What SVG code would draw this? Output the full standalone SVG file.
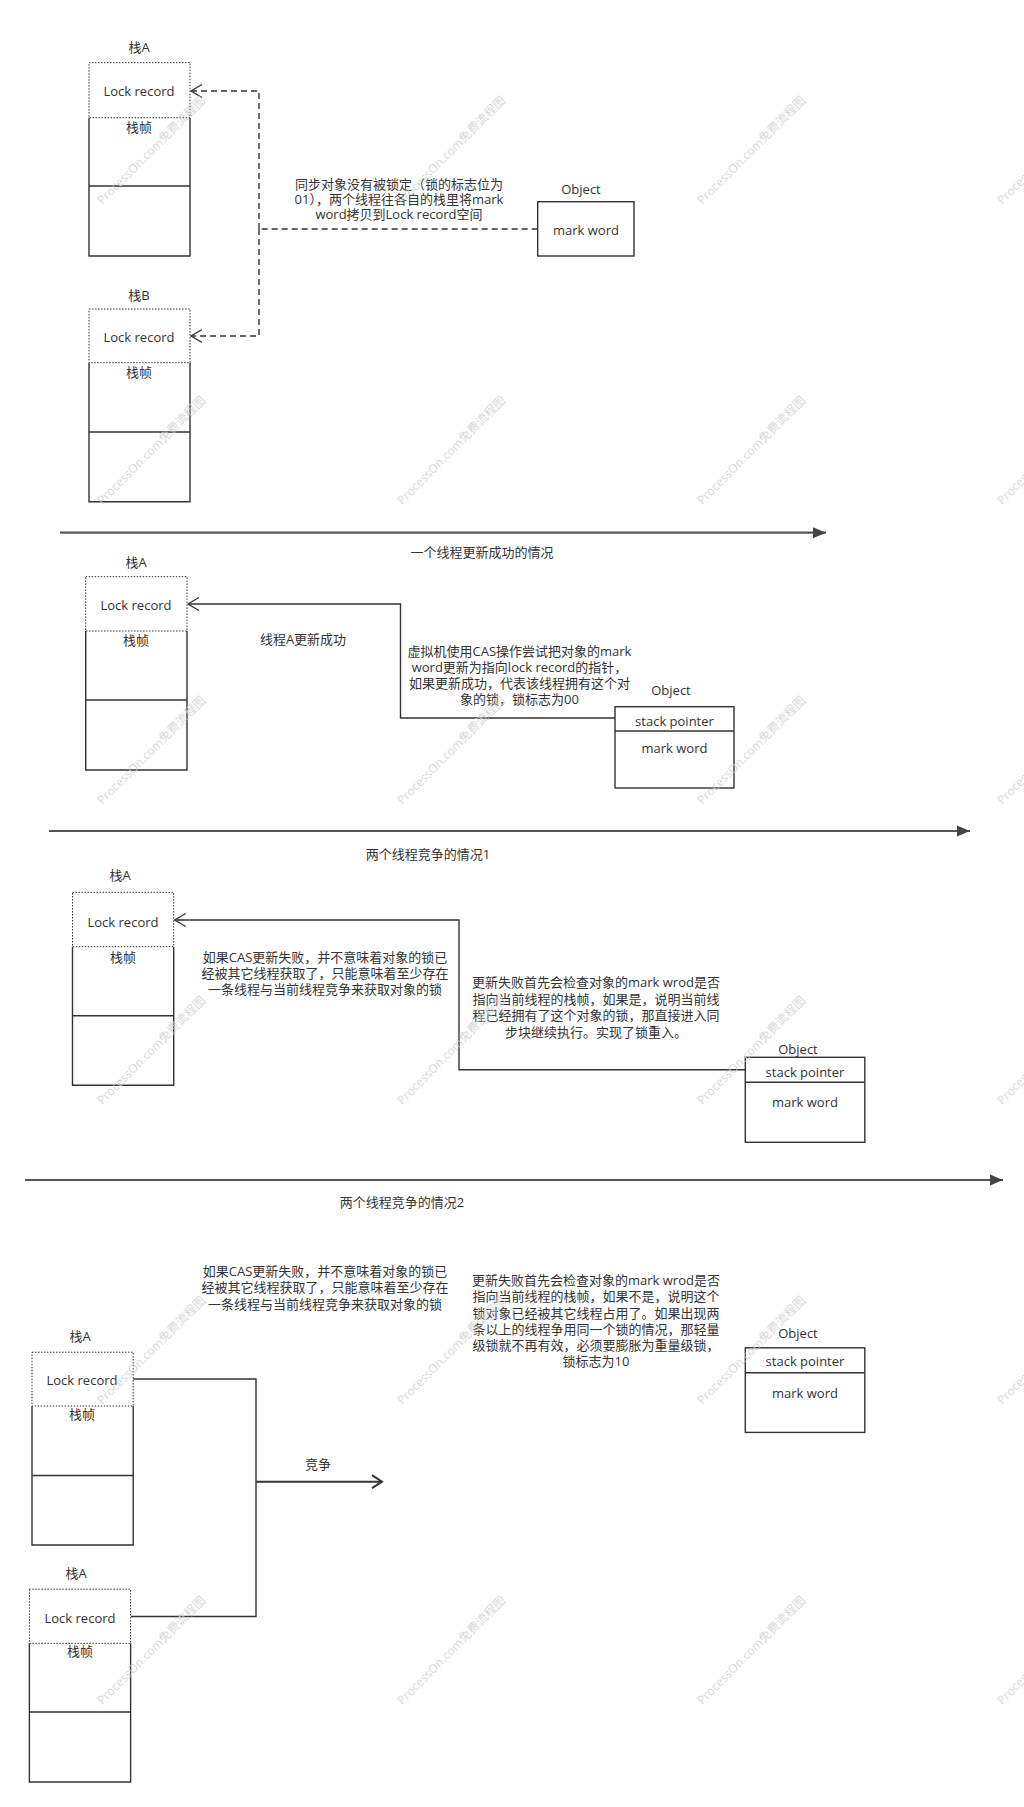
<svg xmlns="http://www.w3.org/2000/svg" width="1024" height="1807" viewBox="0 0 1024 1807">
<style>
.box{fill:#fff;stroke:#333;stroke-width:1.4}
.lock{fill:#fff;stroke:#333;stroke-width:1;stroke-dasharray:1.5 1.5}
.t{font-family:"Open Sans","Noto Sans CJK SC",sans-serif;font-size:13px;fill:#333;text-anchor:middle;dominant-baseline:central}
.wm{font-family:"Open Sans","Noto Sans CJK SC",sans-serif;font-size:12px;fill:#cfcfcf;text-anchor:middle;dominant-baseline:central;opacity:0.8}
.sep{stroke:#555;stroke-width:2.2;fill:none}
.con{stroke:#333;stroke-width:1.4;fill:none}
.dash{stroke:#333;stroke-width:1.4;fill:none;stroke-dasharray:6 4}
</style>
<defs>
<marker id="open" markerUnits="userSpaceOnUse" markerWidth="14" markerHeight="16" refX="12" refY="8" orient="auto"><path d="M1,1.5 L12,8 L1,14.5" fill="none" stroke="#333" stroke-width="1.3"/></marker>
<marker id="open2" markerUnits="userSpaceOnUse" markerWidth="14" markerHeight="16" refX="12" refY="8" orient="auto"><path d="M2,1.5 L12,8 L2,14.5" fill="none" stroke="#333" stroke-width="2"/></marker>
<marker id="tri" markerUnits="userSpaceOnUse" markerWidth="14" markerHeight="12" refX="13" refY="6" orient="auto"><path d="M0,0.5 L13,6 L0,11.5 z" fill="#444"/></marker>
</defs>
<rect width="1024" height="1807" fill="#fff"/>

<g id="connectors">
<path class="dash" d="M537.7,229 H259"/>
<path class="dash" d="M259,229 V91 H191" marker-end="url(#open)"/>
<path class="dash" d="M259,229 V336 H191" marker-end="url(#open)"/>
<path class="sep" d="M60,532.7 H826" marker-end="url(#tri)"/>
<path class="con" d="M615,718 H400.5 V604 H188" marker-end="url(#open)"/>
<path class="sep" d="M49,831 H970" marker-end="url(#tri)"/>
<path class="con" d="M745.3,1069.7 H459 V920 H174.7" marker-end="url(#open)"/>
<path class="sep" d="M25,1180 H1003" marker-end="url(#tri)"/>
<path class="con" d="M133.2,1379 H256 V1616.5 H130.6"/>
<path class="con" style="stroke-width:2" d="M256,1481.7 H382" marker-end="url(#open2)"/>
</g>

<g id="stackA1">
<text class="t" x="139" y="47">栈A</text>
<path class="box" d="M89,117.7 V256 H190 V117.7"/>
<line class="con" x1="89" y1="186" x2="190" y2="186"/>
<rect class="lock" x="89" y="62.7" width="101" height="55"/>
<text class="t" x="139" y="91">Lock record</text>
<text class="t" x="139" y="127">栈帧</text>
</g>
<g id="stackB1">
<text class="t" x="139" y="295">栈B</text>
<path class="box" d="M89,362.7 V501.7 H190 V362.7"/>
<line class="con" x1="89" y1="432" x2="190" y2="432"/>
<rect class="lock" x="89" y="309" width="101" height="53.7"/>
<text class="t" x="139" y="337">Lock record</text>
<text class="t" x="139" y="372">栈帧</text>
</g>
<g id="note1">
<text class="t" x="399" y="184">同步对象没有被锁定（锁的标志位为</text>
<text class="t" x="399" y="199">01），两个线程往各自的栈里将mark</text>
<text class="t" x="399" y="214">word拷贝到Lock record空间</text>
</g>
<g id="object1">
<text class="t" x="581" y="189">Object</text>
<rect class="box" x="537.7" y="201.7" width="96.3" height="54.3"/>
<text class="t" x="586" y="230">mark word</text>
</g>
<g id="label1"><text class="t" x="482" y="552">一个线程更新成功的情况</text></g>

<g id="stackA2">
<text class="t" x="136" y="562">栈A</text>
<path class="box" d="M85.7,631 V770 H187 V631"/>
<line class="con" x1="85.7" y1="700" x2="187" y2="700"/>
<rect class="lock" x="85.7" y="576.7" width="101.3" height="54.3"/>
<text class="t" x="136" y="605">Lock record</text>
<text class="t" x="136" y="640">栈帧</text>
</g>
<g id="note2a"><text class="t" x="303" y="639">线程A更新成功</text></g>
<g id="note2b">
<text class="t" x="519.5" y="651">虚拟机使用CAS操作尝试把对象的mark</text>
<text class="t" x="519.5" y="667">word更新为指向lock record的指针，</text>
<text class="t" x="519.5" y="683">如果更新成功，代表该线程拥有这个对</text>
<text class="t" x="519.5" y="699">象的锁，锁标志为00</text>
</g>
<g id="object2">
<text class="t" x="671" y="690">Object</text>
<rect class="box" x="615" y="706.7" width="119" height="81.3"/>
<line class="con" x1="615" y1="731" x2="734" y2="731"/>
<text class="t" x="674.5" y="720.7">stack pointer</text>
<text class="t" x="674.5" y="748">mark word</text>
</g>
<g id="label2"><text class="t" x="428" y="854">两个线程竞争的情况1</text></g>

<g id="stackA3">
<text class="t" x="120" y="875">栈A</text>
<path class="box" d="M72.5,946.7 V1085.3 H173.7 V946.7"/>
<line class="con" x1="72.5" y1="1015.7" x2="173.7" y2="1015.7"/>
<rect class="lock" x="72.5" y="892.3" width="101.2" height="54.4"/>
<text class="t" x="123" y="921.7">Lock record</text>
<text class="t" x="123" y="957">栈帧</text>
</g>
<g id="note3a">
<text class="t" x="325" y="957">如果CAS更新失败，并不意味着对象的锁已</text>
<text class="t" x="325" y="973">经被其它线程获取了，只能意味着至少存在</text>
<text class="t" x="325" y="989">一条线程与当前线程竞争来获取对象的锁</text>
</g>
<g id="note3b">
<text class="t" x="596" y="982">更新失败首先会检查对象的mark wrod是否</text>
<text class="t" x="596" y="999">指向当前线程的栈帧，如果是，说明当前线</text>
<text class="t" x="596" y="1015">程已经拥有了这个对象的锁，那直接进入同</text>
<text class="t" x="596" y="1032">步块继续执行。实现了锁重入。</text>
</g>
<g id="object3">
<text class="t" x="798" y="1049">Object</text>
<rect class="box" x="745.3" y="1057.3" width="119.5" height="85"/>
<line class="con" x1="745.3" y1="1082.3" x2="864.8" y2="1082.3"/>
<text class="t" x="805" y="1071.7">stack pointer</text>
<text class="t" x="805" y="1102.3">mark word</text>
</g>
<g id="label3"><text class="t" x="402" y="1202">两个线程竞争的情况2</text></g>

<g id="note4a">
<text class="t" x="325" y="1270.5">如果CAS更新失败，并不意味着对象的锁已</text>
<text class="t" x="325" y="1287">经被其它线程获取了，只能意味着至少存在</text>
<text class="t" x="325" y="1303.5">一条线程与当前线程竞争来获取对象的锁</text>
</g>
<g id="note4b">
<text class="t" x="596" y="1280">更新失败首先会检查对象的mark wrod是否</text>
<text class="t" x="596" y="1296">指向当前线程的栈帧，如果不是，说明这个</text>
<text class="t" x="596" y="1313">锁对象已经被其它线程占用了。如果出现两</text>
<text class="t" x="596" y="1329">条以上的线程争用同一个锁的情况，那轻量</text>
<text class="t" x="596" y="1345">级锁就不再有效，必须要膨胀为重量级锁，</text>
<text class="t" x="596" y="1361">锁标志为10</text>
</g>
<g id="object4">
<text class="t" x="798" y="1333">Object</text>
<rect class="box" x="745.3" y="1347.8" width="119.5" height="84.6"/>
<line class="con" x1="745.3" y1="1372.8" x2="864.8" y2="1372.8"/>
<text class="t" x="805" y="1361.4">stack pointer</text>
<text class="t" x="805" y="1392.7">mark word</text>
</g>
<g id="stackA4top">
<text class="t" x="80" y="1336">栈A</text>
<path class="box" d="M32,1406 V1545 H133.2 V1406"/>
<line class="con" x1="32" y1="1475.5" x2="133.2" y2="1475.5"/>
<rect class="lock" x="32" y="1352.2" width="101.2" height="53.8"/>
<text class="t" x="82" y="1380">Lock record</text>
<text class="t" x="82" y="1414">栈帧</text>
</g>
<g id="stackA4bottom">
<text class="t" x="76" y="1573">栈A</text>
<path class="box" d="M29.4,1643.3 V1782 H130.6 V1643.3"/>
<line class="con" x1="29.4" y1="1712" x2="130.6" y2="1712"/>
<rect class="lock" x="29.4" y="1589.2" width="101.2" height="54.1"/>
<text class="t" x="80" y="1617.6">Lock record</text>
<text class="t" x="80" y="1651.4">栈帧</text>
</g>
<g id="label4"><text class="t" x="318" y="1464">竞争</text></g>

<g id="watermarks">
<text class="wm" transform="translate(151,150) rotate(-45)">ProcessOn.com免费流程图</text>
<text class="wm" transform="translate(451,150) rotate(-45)">ProcessOn.com免费流程图</text>
<text class="wm" transform="translate(751,150) rotate(-45)">ProcessOn.com免费流程图</text>
<text class="wm" transform="translate(1051,150) rotate(-45)">ProcessOn.com免费流程图</text>
<text class="wm" transform="translate(151,450) rotate(-45)">ProcessOn.com免费流程图</text>
<text class="wm" transform="translate(451,450) rotate(-45)">ProcessOn.com免费流程图</text>
<text class="wm" transform="translate(751,450) rotate(-45)">ProcessOn.com免费流程图</text>
<text class="wm" transform="translate(1051,450) rotate(-45)">ProcessOn.com免费流程图</text>
<text class="wm" transform="translate(151,750) rotate(-45)">ProcessOn.com免费流程图</text>
<text class="wm" transform="translate(451,750) rotate(-45)">ProcessOn.com免费流程图</text>
<text class="wm" transform="translate(751,750) rotate(-45)">ProcessOn.com免费流程图</text>
<text class="wm" transform="translate(1051,750) rotate(-45)">ProcessOn.com免费流程图</text>
<text class="wm" transform="translate(151,1050) rotate(-45)">ProcessOn.com免费流程图</text>
<text class="wm" transform="translate(451,1050) rotate(-45)">ProcessOn.com免费流程图</text>
<text class="wm" transform="translate(751,1050) rotate(-45)">ProcessOn.com免费流程图</text>
<text class="wm" transform="translate(1051,1050) rotate(-45)">ProcessOn.com免费流程图</text>
<text class="wm" transform="translate(151,1350) rotate(-45)">ProcessOn.com免费流程图</text>
<text class="wm" transform="translate(451,1350) rotate(-45)">ProcessOn.com免费流程图</text>
<text class="wm" transform="translate(751,1350) rotate(-45)">ProcessOn.com免费流程图</text>
<text class="wm" transform="translate(1051,1350) rotate(-45)">ProcessOn.com免费流程图</text>
<text class="wm" transform="translate(151,1650) rotate(-45)">ProcessOn.com免费流程图</text>
<text class="wm" transform="translate(451,1650) rotate(-45)">ProcessOn.com免费流程图</text>
<text class="wm" transform="translate(751,1650) rotate(-45)">ProcessOn.com免费流程图</text>
<text class="wm" transform="translate(1051,1650) rotate(-45)">ProcessOn.com免费流程图</text>
</g>
</svg>
